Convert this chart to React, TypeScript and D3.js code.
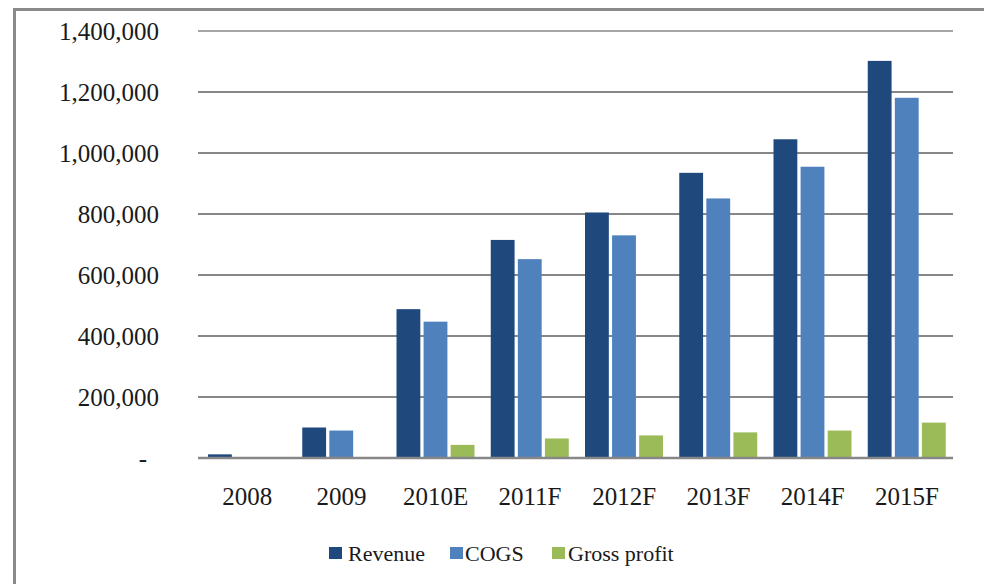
import React from "react";
import * as d3 from "d3";

const categories = ["2008", "2009", "2010E", "2011F", "2012F", "2013F", "2014F", "2015F"];
const seriesNames = ["Revenue", "COGS", "Gross profit"];
const revenue = [12000, 100000, 488000, 715000, 805000, 935000, 1045000, 1302000];
const cogs = [1000, 90000, 447000, 652000, 730000, 851000, 955000, 1181000];
const grossProfit = [500, 2000, 43000, 64000, 74000, 84000, 90000, 116000];
const yTicks = [0, 200000, 400000, 600000, 800000, 1000000, 1200000, 1400000];
const colors = ["#1F497D", "#4F81BD", "#9BBB59"];

const W = 984;
const H = 584;
const FONT = "'Liberation Serif', 'Times New Roman', serif";

export default function App() {
  const seriesValues = [revenue, cogs, grossProfit];
  const x0 = d3.scaleBand<string>().domain(categories).range([200, 954]).paddingInner(0);
  const x1 = d3
    .scaleBand<string>()
    .domain(seriesNames)
    .range([8, 86])
    .paddingInner(0.12);
  const y = d3.scaleLinear().domain([0, 1400000]).range([458, 31]);
  const fmt = (v: number) => (v === 0 ? "-" : d3.format(",")(v));

  const legendItems = [
    { sx: 329, tx: 348 },
    { sx: 450, tx: 465 },
    { sx: 552, tx: 568 },
  ];

  return (
    <svg
      width={W}
      height={H}
      style={{ position: "absolute", left: 0, top: 0, background: "#fff" }}
    >
      <rect x={0} y={0} width={W} height={H} fill="#fff" />
      <rect x={14.5} y={9.5} width={1000} height={600} fill="none" stroke="#8a8a8a" strokeWidth={3} />

      {yTicks.map((t) => (
        <g key={t}>
          {t !== 0 && (
            <line
              x1={198}
              x2={953}
              y1={y(t)}
              y2={y(t)}
              stroke="#878787"
              strokeWidth={t === 1400000 ? 1.3 : 2}
            />
          )}
          <text
            x={t === 0 ? 147 : 159}
            y={y(t)}
            dy="0.35em"
            textAnchor="end"
            fontFamily={FONT}
            fontSize={25}
            fill="#1a1a1a"
          >
            {fmt(t)}
          </text>
        </g>
      ))}

      {categories.map((c, i) => (
        <g key={c} transform={`translate(${x0(c)},0)`}>
          {seriesNames.map((s, j) => {
            const v = seriesValues[j][i];
            return (
              <rect
                key={s}
                x={x1(s)}
                y={y(v)}
                width={x1.bandwidth()}
                height={y(0) - y(v)}
                fill={colors[j]}
              />
            );
          })}
          <text
            x={x0.bandwidth() / 2}
            y={505}
            textAnchor="middle"
            fontFamily={FONT}
            fontSize={25}
            fill="#1a1a1a"
          >
            {c}
          </text>
        </g>
      ))}

      <line x1={198} x2={953} y1={y(0)} y2={y(0)} stroke="#878787" strokeWidth={2.5} />

      {seriesNames.map((s, j) => (
        <g key={s}>
          <rect x={legendItems[j].sx} y={547} width={13} height={12} fill={colors[j]} />
          <text
            x={legendItems[j].tx}
            y={561}
            fontFamily={FONT}
            fontSize={22}
            fill="#1a1a1a"
          >
            {s}
          </text>
        </g>
      ))}
    </svg>
  );
}
